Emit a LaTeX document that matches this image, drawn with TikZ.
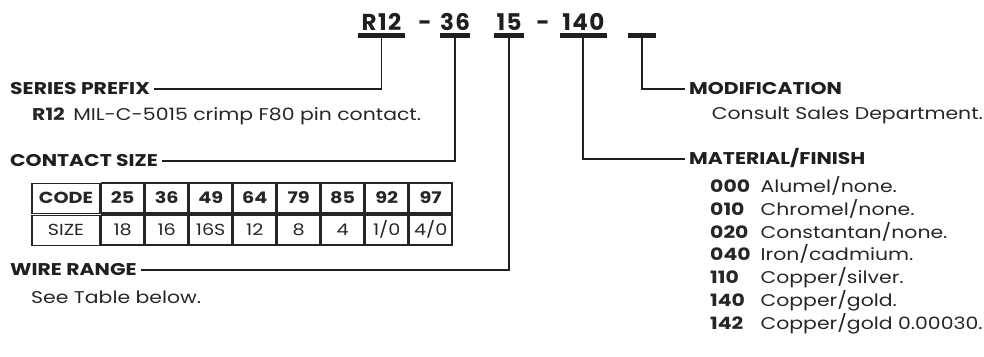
\documentclass[tikz,border=0pt]{standalone}
\usepackage{fontspec}
\setmainfont{Poppins}[FakeStretch=1.2]
\newfontfamily\codefont{Poppins}[LetterSpace=6]
\usetikzlibrary{positioning,matrix}

\begin{document}
\begin{tikzpicture}[
  x=1pt, y=-1pt,
  font=\fontsize{17}{20}\selectfont,
  codetxt/.style={
    font=\codefont\fontsize{23}{26}\selectfont\bfseries,
    text=black!88,
    anchor=base,
    inner sep=0pt
  },
  codebar/.style={
    fill=black!88,
    minimum height=5pt,
    inner sep=0pt
  },
  headtxt/.style={
    font=\fontsize{17}{20}\selectfont\bfseries,
    text=black!88,
    text height=11.9pt,
    text depth=0pt,
    inner xsep=4pt,
    inner ysep=0pt
  },
  desctxt/.style={
    text=black!85,
    anchor=base west,
    inner sep=0pt
  },
  cell/.style={
    draw=black!85,
    line width=1.5pt,
    minimum width=42.5pt,
    minimum height=30pt,
    inner sep=0pt,
    outer sep=0pt,
    font=\fontsize{16}{18}\selectfont,
    text=black!85
  },
  lead/.style={draw=black!88, line width=1.7pt}
]
\useasboundingbox (0,0) rectangle (984,356);

\node[codetxt] (cR) at (381.5,30) {R12};
\node[codetxt] (d1) at (425,30) {-};
\node[codetxt] (c36) at (455,30) {36};
\node[codetxt] (c15) at (509,30) {15};
\node[codetxt] (d2) at (543,30) {-};
\node[codetxt] (c140) at (583.3,30) {140};

\node[codebar, minimum width=47pt] (barR) at (381.5,35.5) {};
\node[codebar, minimum width=30pt] (bar36) at (455,35.5) {};
\node[codebar, minimum width=30pt] (bar15) at (509,35.5) {};
\node[codebar, minimum width=46.7pt] (bar140) at (583.3,35.5) {};
\node[codebar, minimum width=28pt] (barmod) at (642,35.5) {};

\node[headtxt, anchor=west] (series) at (6,89) {SERIES PREFIX};
\node[desctxt] (seriesdesc) at (32,120) {\textbf{R12}\enspace MIL-C-5015 crimp F80 pin contact.};

\node[headtxt, anchor=west] (contact) at (6,161) {CONTACT SIZE};
\matrix (sizetab) [
  matrix of nodes,
  anchor=north west,
  inner sep=0pt,
  column sep=0pt,
  row sep=0pt,
  nodes={cell},
  column 1/.style={nodes={minimum width=68pt}},
  row 1/.style={nodes={font=\fontsize{16}{18}\selectfont\bfseries}}
] at (31,182) {
  CODE & 25 & 36 & 49 & 64 & 79 & 85 & 92 & 97 \\
  SIZE & 18 & 16 & 16S & 12 & 8 & 4 & 1/0 & 4/0 \\
};

\node[headtxt, anchor=west] (wire) at (6,270) {WIRE RANGE};
\node[desctxt] (wiredesc) at (31,303) {See Table below.};

\node[headtxt, anchor=west] (modif) at (685,89) {MODIFICATION};
\node[desctxt] (modifdesc) at (711.7,119) {Consult Sales Department.};

\node[headtxt, anchor=west] (material) at (685,159) {MATERIAL/FINISH};
\node[desctxt] (matlist) at (710,192.5) {%
  \renewcommand{\arraystretch}{1.125}%
  \begin{tabular}[t]{@{}l@{\hspace{10pt}}l@{}}
    \textbf{000} & Alumel/none. \\
    \textbf{010} & Chromel/none. \\
    \textbf{020} & Constantan/none. \\
    \textbf{040} & Iron/cadmium. \\
    \textbf{110} & Copper/silver. \\
    \textbf{140} & Copper/gold. \\
    \textbf{142} & Copper/gold 0.00030.
  \end{tabular}};

\draw[lead] (barR.south) |- (series.east);
\draw[lead] (bar36.south) |- (contact.east);
\draw[lead] (bar15.south) |- (wire.east);
\draw[lead] (bar140.south) |- (material.west);
\draw[lead] (barmod.south) |- (modif.west);
\end{tikzpicture}
\end{document}
